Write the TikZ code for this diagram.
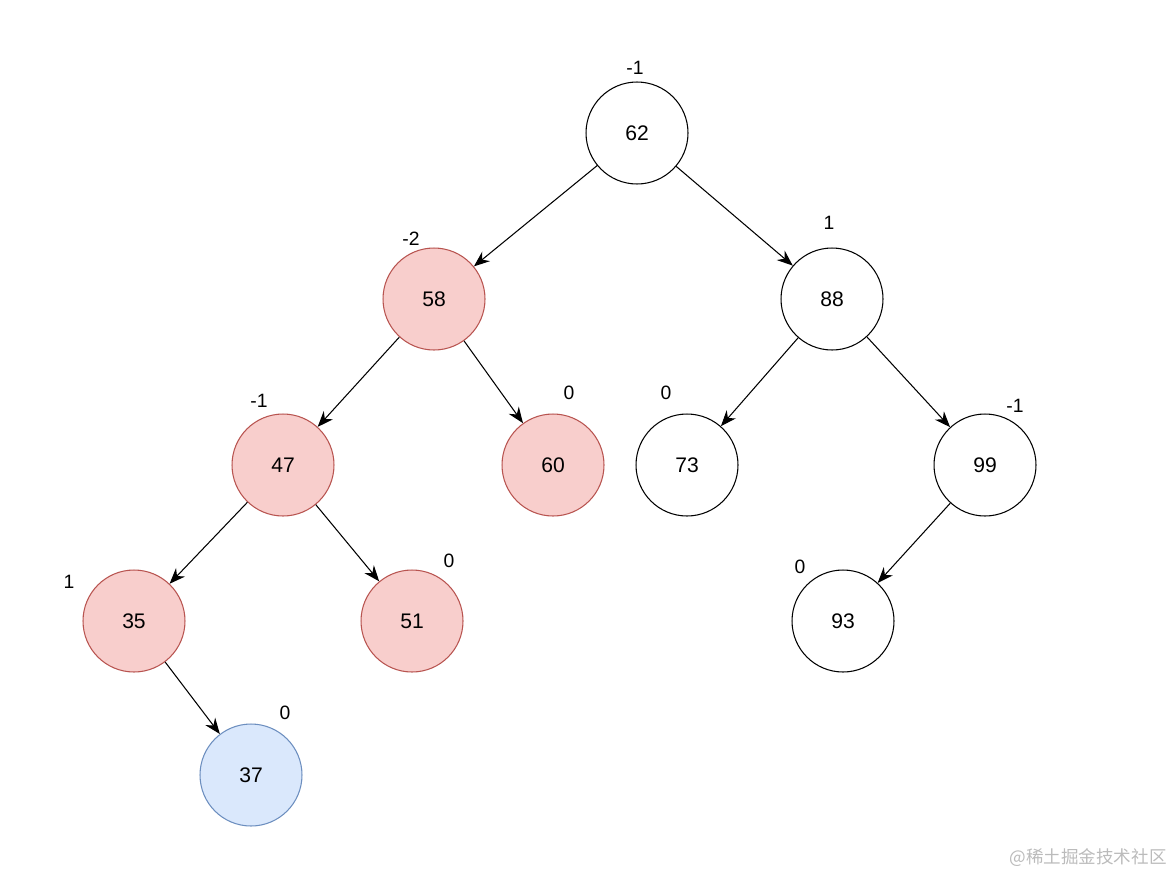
\documentclass[tikz,border=0pt]{standalone}
\usepackage{fontspec}
\setmainfont{Liberation Sans}
\newfontfamily\cjk{Noto Sans CJK SC}
\usetikzlibrary{arrows.meta}
\definecolor{unbal}{HTML}{F8CECC}
\definecolor{unbaledge}{HTML}{B85450}
\definecolor{newkey}{HTML}{DAE8FC}
\definecolor{newkeyedge}{HTML}{6C8EBF}
\definecolor{mark}{HTML}{BBBBBB}

\begin{document}
\begin{tikzpicture}[x=0.02cm, y=-0.02cm,
    key/.style={circle, draw=black, line width=0.6pt, minimum size=2.04cm,
      inner sep=0pt, font=\fontsize{12}{14}\selectfont},
    hot/.style={key, fill=unbal, draw=unbaledge},
    fresh/.style={key, fill=newkey, draw=newkeyedge},
    bf/.style={font=\fontsize{11}{13}\selectfont},
    link/.style={-{Stealth[length=9pt, width=7pt]}, line width=0.6pt}]
  \useasboundingbox (0,0) rectangle (1175,876);

  % Keys
  \node[key]   (n62) at (637,133) {62};
  \node[hot]   (n58) at (434,299) {58};
  \node[key]   (n88) at (832,299) {88};
  \node[hot]   (n47) at (283,465) {47};
  \node[hot]   (n60) at (553,465) {60};
  \node[key]   (n73) at (687,465) {73};
  \node[key]   (n99) at (985,465) {99};
  \node[hot]   (n35) at (134,621) {35};
  \node[hot]   (n51) at (412,621) {51};
  \node[key]   (n93) at (843,621) {93};
  \node[fresh] (n37) at (251,775) {37};

  % Links
  \foreach \a/\b in {62/58, 62/88, 58/47, 58/60, 88/73, 88/99,
                     47/35, 47/51, 99/93, 35/37}
    \draw[link] (n\a) -- (n\b);

  % Balance factors
  \node[bf] (b62) at (635,68)  {-1};
  \node[bf] (b58) at (411,239) {-2};
  \node[bf] (b88) at (829,223) {1};
  \node[bf] (b47) at (259,401) {-1};
  \node[bf] (b60) at (569,393) {0};
  \node[bf] (b73) at (666,393) {0};
  \node[bf] (b99) at (1015,406) {-1};
  \node[bf] (b35) at (69,582)  {1};
  \node[bf] (b51) at (449,561) {0};
  \node[bf] (b93) at (800,567) {0};
  \node[bf] (b37) at (285,713) {0};

  % Watermark
  \node[text=mark, font=\cjk\fontsize{10}{12}\selectfont] (wm) at (1088,858) {@稀土掘金技术社区};
\end{tikzpicture}
\end{document}
